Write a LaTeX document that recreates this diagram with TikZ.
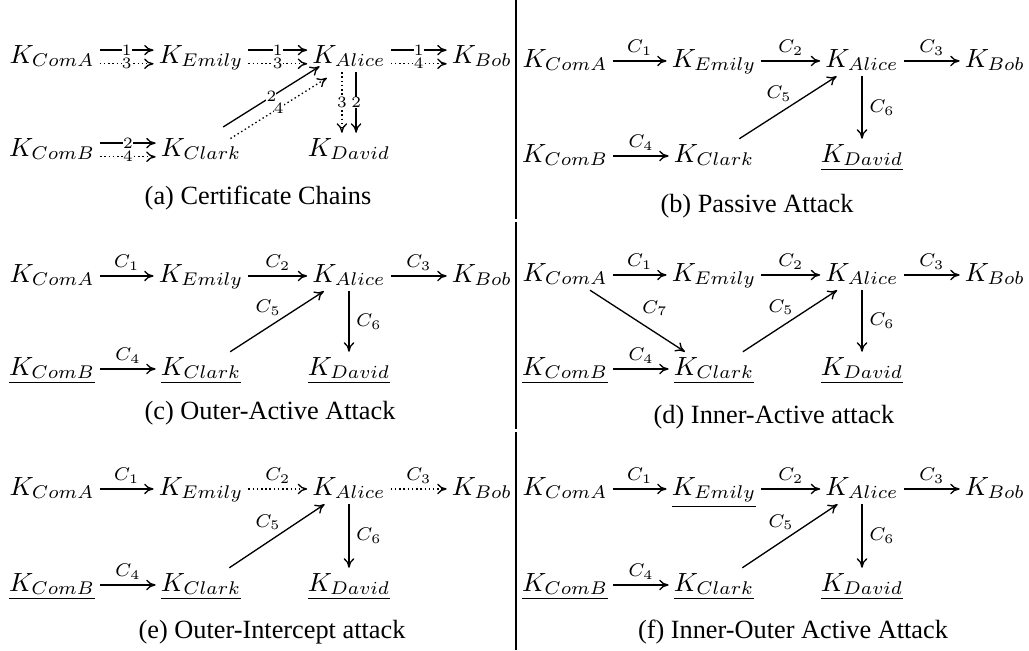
\documentclass[tikz,border=0pt]{standalone}
\usepackage[no-math]{fontspec}
\setmainfont{Liberation Serif}
\usetikzlibrary{arrows.meta,calc}
\begin{document}
\begin{tikzpicture}[x=0.38pt,y=-0.38pt,
  kn/.style={inner sep=1.8pt, anchor=base},
  lab/.style={font=\scriptsize, inner sep=1pt},
  lb/.style={lab, above=0.8pt},
  ar/.style={line width=0.5pt, -{Computer Modern Rightarrow[length=3.6pt,width=4pt]}},
  dt/.style={ar, dash pattern=on 0.55pt off 1.05pt},
  brk/.style={font=\fontsize{6}{6}\selectfont, fill=white, inner sep=0.1pt},
  captxt/.style={anchor=base, inner sep=0pt},
  divl/.style={line width=0.8pt}
]
\useasboundingbox (0,0) rectangle (1029,650);

% divider
\draw[divl] (516,0) -- (516,219);
\draw[divl] (516,222) -- (516,429);
\draw[divl] (516,432) -- (516,650);

% ---------------- (a)
\node[kn] (aA) at (52,63) {$K_{ComA}$};
\node[kn] (aE) at (201,63) {$K_{Emily}$};
\node[kn] (aL) at (349,63) {$K_{Alice}$};
\node[kn] (aB) at (482,63) {$K_{Bob}$};
\node[kn] (aC) at (52,156) {$K_{ComB}$};
\node[kn] (aK) at (201,156) {$K_{Clark}$};
\node[kn] (aD) at (349,156) {$K_{David}$};
\draw[ar] ([yshift=2.6pt]aA.mid east) -- node[brk]{$1$} ([yshift=2.6pt]aE.mid west);
\draw[dt] ([yshift=-2.6pt]aA.mid east) -- node[brk]{$3$} ([yshift=-2.6pt]aE.mid west);
\draw[ar] ([yshift=2.6pt]aE.mid east) -- node[brk]{$1$} ([yshift=2.6pt]aL.mid west);
\draw[dt] ([yshift=-2.6pt]aE.mid east) -- node[brk]{$3$} ([yshift=-2.6pt]aL.mid west);
\draw[ar] ([yshift=2.6pt]aL.mid east) -- node[brk]{$1$} ([yshift=2.6pt]aB.mid west);
\draw[dt] ([yshift=-2.6pt]aL.mid east) -- node[brk]{$4$} ([yshift=-2.6pt]aB.mid west);
\draw[ar] ([yshift=2.6pt]aC.mid east) -- node[brk]{$2$} ([yshift=2.6pt]aK.mid west);
\draw[dt] ([yshift=-2.6pt]aC.mid east) -- node[brk]{$4$} ([yshift=-2.6pt]aK.mid west);
\draw[ar, transform canvas={xshift=-1.38pt,yshift=2.2pt}] (aK) -- node[brk]{$2$} (aL);
\draw[dt, transform canvas={xshift=1.38pt,yshift=-2.2pt}] (aK) -- node[brk]{$4$} (aL);
\draw[dt] ($(aL.south)+(-2.7pt,0)$) -- node[brk]{$3$} ($(aL.south |- aD.north)+(-2.7pt,0)$);
\draw[ar] ($(aL.south)+(2.7pt,0)$) -- node[brk]{$2$} ($(aL.south |- aD.north)+(2.7pt,0)$);
\node[captxt] (capa) at (258,204) {(a) Certificate Chains};

% ---------------- (b)
\node[kn] (bA) at (565,67) {$K_{ComA}$};
\node[kn] (bE) at (714,67) {$K_{Emily}$};
\node[kn] (bL) at (862,67) {$K_{Alice}$};
\node[kn] (bB) at (995,67) {$K_{Bob}$};
\node[kn] (bC) at (565,162) {$K_{ComB}$};
\node[kn] (bK) at (714,162) {$K_{Clark}$};
\node[kn] (bD) at (862,162) {$\underline{K_{David}}$};
\draw[ar] (bA.mid east) -- node[lb]{$C_1$} (bE.mid west);
\draw[ar] (bE.mid east) -- node[lb]{$C_2$} (bL.mid west);
\draw[ar] (bL.mid east) -- node[lb]{$C_3$} (bB.mid west);
\draw[ar] (bC.mid east) -- node[lb]{$C_4$} (bK.mid west);
\draw[ar] (bK) -- node[lab,xshift=-3.4pt,yshift=5.3pt]{$C_5$} (bL);
\draw[ar] (bL.south) -- node[lab,right=1.5pt]{$C_6$} (bL.south |- bD.north);
\node[captxt] (capb) at (757,212) {(b) Passive Attack};

% ---------------- (c)
\node[kn] (cA) at (52,282) {$K_{ComA}$};
\node[kn] (cE) at (201,282) {$K_{Emily}$};
\node[kn] (cL) at (349,282) {$K_{Alice}$};
\node[kn] (cB) at (482,282) {$K_{Bob}$};
\node[kn] (cC) at (52,375) {$\underline{K_{ComB}}$};
\node[kn] (cK) at (201,375) {$\underline{K_{Clark}}$};
\node[kn] (cD) at (349,375) {$\underline{K_{David}}$};
\draw[ar] (cA.mid east) -- node[lb]{$C_1$} (cE.mid west);
\draw[ar] (cE.mid east) -- node[lb]{$C_2$} (cL.mid west);
\draw[ar] (cL.mid east) -- node[lb]{$C_3$} (cB.mid west);
\draw[ar] (cC.mid east) -- node[lb]{$C_4$} (cK.mid west);
\draw[ar] (cK) -- node[lab,xshift=-3.4pt,yshift=5.3pt]{$C_5$} (cL);
\draw[ar] (cL.south) -- node[lab,right=1.5pt]{$C_6$} (cL.south |- cD.north);
\node[captxt] (capc) at (270,419) {(c) Outer-Active Attack};

% ---------------- (d)
\node[kn] (dA) at (565,281) {$K_{ComA}$};
\node[kn] (dE) at (714,281) {$K_{Emily}$};
\node[kn] (dL) at (862,281) {$K_{Alice}$};
\node[kn] (dB) at (995,281) {$K_{Bob}$};
\node[kn] (dC) at (565,375) {$\underline{K_{ComB}}$};
\node[kn] (dK) at (714,375) {$\underline{K_{Clark}}$};
\node[kn] (dD) at (862,375) {$\underline{K_{David}}$};
\draw[ar] (dA.mid east) -- node[lb]{$C_1$} (dE.mid west);
\draw[ar] (dE.mid east) -- node[lb]{$C_2$} (dL.mid west);
\draw[ar] (dL.mid east) -- node[lb]{$C_3$} (dB.mid west);
\draw[ar] (dC.mid east) -- node[lb]{$C_4$} (dK.mid west);
\draw[ar] (dK) -- node[lab,xshift=-3.4pt,yshift=5.3pt]{$C_5$} (dL);
\draw[ar] (dL.south) -- node[lab,right=1.5pt]{$C_6$} (dL.south |- dD.north);
\draw[ar] (dA) -- node[lab,xshift=6.6pt,yshift=4.9pt]{$C_7$} (dK);
\node[captxt] (capd) at (774,423) {(d) Inner-Active attack};

% ---------------- (e)
\node[kn] (eA) at (52,495) {$K_{ComA}$};
\node[kn] (eE) at (201,495) {$K_{Emily}$};
\node[kn] (eL) at (349,495) {$K_{Alice}$};
\node[kn] (eB) at (482,495) {$K_{Bob}$};
\node[kn] (eC) at (52,591) {$\underline{K_{ComB}}$};
\node[kn] (eK) at (201,591) {$\underline{K_{Clark}}$};
\node[kn] (eD) at (349,591) {$\underline{K_{David}}$};
\draw[ar] (eA.mid east) -- node[lb]{$C_1$} (eE.mid west);
\draw[dt] (eE.mid east) -- node[lb]{$C_2$} (eL.mid west);
\draw[dt] (eL.mid east) -- node[lb]{$C_3$} (eB.mid west);
\draw[ar] (eC.mid east) -- node[lb]{$C_4$} (eK.mid west);
\draw[ar] (eK) -- node[lab,xshift=-3.4pt,yshift=5.3pt]{$C_5$} (eL);
\draw[ar] (eL.south) -- node[lab,right=1.5pt]{$C_6$} (eL.south |- eD.north);
\node[captxt] (cape) at (272,638) {(e) Outer-Intercept attack};

% ---------------- (f)
\node[kn] (fA) at (565,495) {$K_{ComA}$};
\node[kn] (fE) at (714,495) {$\underline{K_{Emily}}$};
\node[kn] (fL) at (862,495) {$K_{Alice}$};
\node[kn] (fB) at (995,495) {$K_{Bob}$};
\node[kn] (fC) at (565,591) {$\underline{K_{ComB}}$};
\node[kn] (fK) at (714,591) {$\underline{K_{Clark}}$};
\node[kn] (fD) at (862,591) {$\underline{K_{David}}$};
\draw[ar] (fA.mid east) -- node[lb]{$C_1$} (fE.mid west);
\draw[ar] (fE.mid east) -- node[lb]{$C_2$} (fL.mid west);
\draw[ar] (fL.mid east) -- node[lb]{$C_3$} (fB.mid west);
\draw[ar] (fC.mid east) -- node[lb]{$C_4$} (fK.mid west);
\draw[ar] (fK) -- node[lab,xshift=-3.4pt,yshift=5.3pt]{$C_5$} (fL);
\draw[ar] (fL.south) -- node[lab,right=1.5pt]{$C_6$} (fL.south |- fD.north);
\node[captxt] (capf) at (793,638) {(f) Inner-Outer Active Attack};
\end{tikzpicture}
\end{document}
